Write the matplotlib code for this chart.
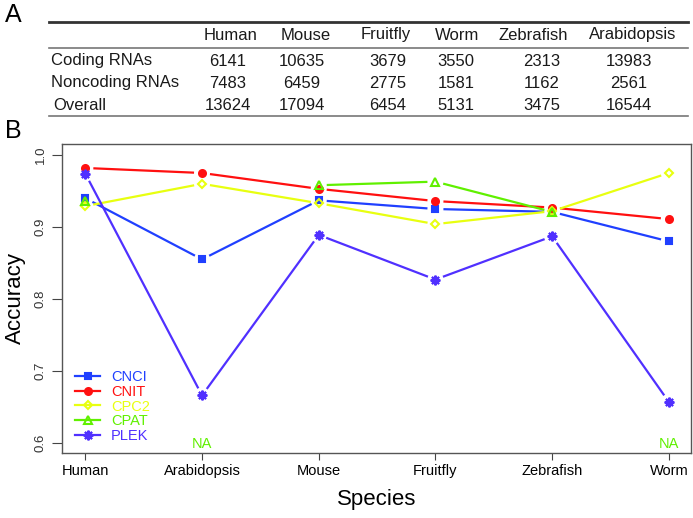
import numpy as np
import matplotlib
matplotlib.use("Agg")
import matplotlib.pyplot as plt
from matplotlib.lines import Line2D

plt.rcParams['font.family'] = ['Liberation Sans', 'DejaVu Sans']

# table data (panel A)
table_species = ["Human", "Mouse", "Fruitfly", "Worm", "Zebrafish", "Arabidopsis"]
table_rows = ["Coding RNAs", "Noncoding RNAs", "Overall"]
coding = [6141, 10635, 3679, 3550, 2313, 13983]
noncoding = [7483, 6459, 2775, 1581, 1162, 2561]
overall = [13624, 17094, 6454, 5131, 3475, 16544]

# accuracy data (panel B)
species = ["Human", "Arabidopsis", "Mouse", "Fruitfly", "Zebrafish", "Worm"]
tools = ["CNCI", "CNIT", "CPC2", "CPAT", "PLEK"]
cnci = [0.940, 0.855, 0.937, 0.925, 0.921, 0.880]
cnit = [0.982, 0.975, 0.953, 0.936, 0.927, 0.911]
cpc2 = [0.929, 0.960, 0.933, 0.904, 0.922, 0.975]
cpat = [0.936, np.nan, 0.958, 0.963, 0.921, np.nan]
plek = [0.974, 0.666, 0.889, 0.827, 0.887, 0.657]

colors = ["#2040ff", "#ff1010", "#e8ff10", "#60f000", "#5030ff"]
markers = ["s", "o", "D", "^", (8, 2, 0)]
msizes = [4, 5, 4.5, 6, 7]
filled = [True, True, False, False, True]

W, H = 693, 518
fig = plt.figure(figsize=(W / 100, H / 100), dpi=100)


def fx(x):
    return x / W


def fy(y):
    return 1 - y / H


# ---- panel A: table ----
fig.text(fx(13), fy(15), "A", fontsize=18, ha="center", va="center")
fig.text(fx(13), fy(131), "B", fontsize=18, ha="center", va="center")

fig.add_artist(Line2D([fx(49), fx(688)], [fy(22), fy(22)], color="#333333", lw=2))
fig.add_artist(Line2D([fx(49), fx(688)], [fy(48), fy(48)], color="#777777", lw=1.2))
fig.add_artist(Line2D([fx(49), fx(688)], [fy(116), fy(116)], color="#777777", lw=1.2))

head_x = [231, 306, 386, 457, 533, 633]
num_x = [228, 302, 388, 456, 542, 629]
row_y = [61, 83, 105]
tkw = dict(fontsize=12, va="center", color="#1a1a1a")
for name, x in zip(table_species, head_x):
    fig.text(fx(x), fy(35), name, ha="center", **tkw)
for label, vals, y in zip(table_rows, [coding, noncoding, overall], row_y):
    fig.text(fx(51 if label != "Overall" else 53), fy(y), label, ha="left", **tkw)
    for v, x in zip(vals, num_x):
        fig.text(fx(x), fy(y), str(v), ha="center", **tkw)

# ---- panel B: accuracy ----
ax = fig.add_axes([fx(62), fy(453), fx(691) - fx(62), (453 - 144) / H])
xs = np.arange(1, len(species) + 1)
ax.set_xlim(0.80, 6.19)
ax.set_ylim(0.586, 1.0153)
fig.canvas.draw()

gap = 8  # pixels of gap around markers (R type="b")
series = [cnci, cnit, cpc2, cpat, plek]
for vals, c, m, ms, f in zip(series, colors, markers, msizes, filled):
    vals = np.array(vals, dtype=float)
    for i in range(len(xs) - 1):
        if np.isnan(vals[i]) or np.isnan(vals[i + 1]):
            continue
        p0 = ax.transData.transform((xs[i], vals[i]))
        p1 = ax.transData.transform((xs[i + 1], vals[i + 1]))
        d = p1 - p0
        n = np.hypot(*d)
        a = ax.transData.inverted().transform(p0 + d / n * gap)
        b = ax.transData.inverted().transform(p1 - d / n * gap)
        ax.plot([a[0], b[0]], [a[1], b[1]], color=c, lw=1.6, solid_capstyle="butt")
    ax.plot(xs, vals, linestyle="none", marker=m, markersize=ms,
            markerfacecolor=c if f else "none", markeredgecolor=c, markeredgewidth=1.5)

ax.text(2, 0.598, "NA", color="#60f000", fontsize=10.5, ha="center", va="center")
ax.text(6, 0.598, "NA", color="#60f000", fontsize=10.5, ha="center", va="center")

handles = [Line2D([0], [0], color=c, lw=1.6, marker=m, markersize=ms,
                  markerfacecolor=c if f else "none", markeredgecolor=c, markeredgewidth=1.5)
           for c, m, ms, f in zip(colors, markers, msizes, filled)]
leg = ax.legend(handles, tools, loc="lower left", frameon=False, fontsize=10.5,
                handlelength=1.7, handletextpad=0.75, labelspacing=0.05,
                bbox_to_anchor=(0.0, -0.01), labelcolor=colors)

ax.set_xticks(xs)
ax.set_xticklabels(species, fontsize=10.5)
ax.set_yticks([0.6, 0.7, 0.8, 0.9, 1.0])
ax.set_yticklabels(["0.6", "0.7", "0.8", "0.9", "1.0"], rotation=90, va="center", fontsize=9.5,
                   color="#333333")
ax.tick_params(axis="x", length=5, color="#444444", pad=3)
ax.tick_params(axis="y", length=7, color="#444444", pad=4)
for s in ax.spines.values():
    s.set_color("#555555")
    s.set_linewidth(1)

ax.set_xlabel("Species", fontsize=16, labelpad=8)
ax.set_ylabel("Accuracy", fontsize=16, labelpad=6)

fig.savefig("out.png", dpi=100)
